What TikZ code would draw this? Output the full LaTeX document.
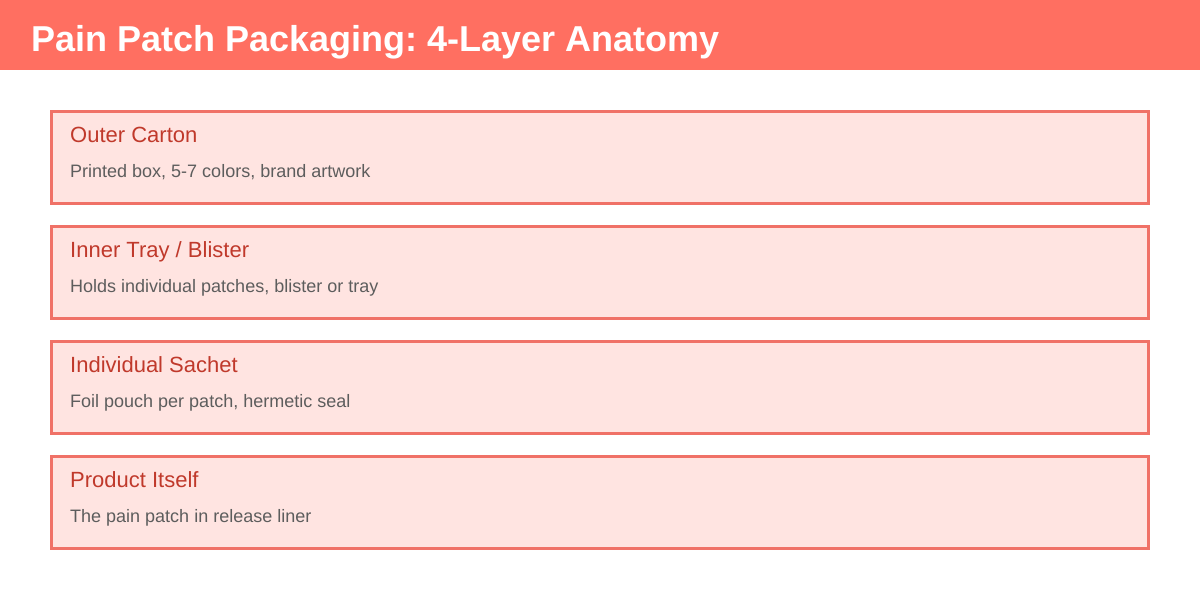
\documentclass[tikz,border=0pt]{standalone}
\usepackage{fontspec}
\setmainfont{Liberation Sans}
\frenchspacing
\definecolor{coral}{HTML}{FF6F61}
\definecolor{boxline}{HTML}{F07167}
\definecolor{boxfill}{HTML}{FFE4E1}
\definecolor{ttl}{HTML}{C0392B}
\definecolor{body}{HTML}{5D5D5D}
\begin{document}
\begin{tikzpicture}[x=1pt,y=-1pt,
  layerbox/.style={draw=boxline, fill=boxfill, line width=3pt},
  layertitle/.style={anchor=base west, inner sep=0pt, text=ttl, font=\fontsize{22}{26}\selectfont},
  layerbody/.style={anchor=base west, inner sep=0pt, text=body, font=\fontsize{18}{22}\selectfont},
  header/.style={anchor=base west, inner sep=0pt, text=white, font=\fontsize{36}{42}\selectfont\bfseries}]
\useasboundingbox (0,0) rectangle (1200,600);
\fill[white] (0,0) rectangle (1200,600);
\fill[coral] (0,0) rectangle (1200,70);
\node[header] (hdr) at (31,51) {Pain Patch Packaging: 4-Layer Anatomy};
\foreach \i/\t/\b in {0/{Outer Carton}/{Printed box, 5-7 colors, brand artwork},
                      1/{Inner Tray / Blister}/{Holds individual patches, blister or tray},
                      2/{Individual Sachet}/{Foil pouch per patch, hermetic seal},
                      3/{Product Itself}/{The pain patch in release liner}}{
  \pgfmathsetmacro{\yy}{115*\i}
  \draw[layerbox] (51.5,111.5+\yy) rectangle (1148.5,203.5+\yy);
  \node[layertitle] (t\i) at (70,142+\yy) {\t};
  \node[layerbody] (b\i) at (70,177+\yy) {\b};
}
\end{tikzpicture}
\end{document}
